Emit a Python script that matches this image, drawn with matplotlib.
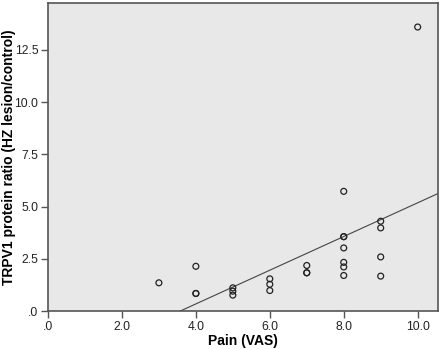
import numpy as np
import matplotlib
matplotlib.use("Agg")
import matplotlib.pyplot as plt
from matplotlib.ticker import FuncFormatter

plt.rcParams['font.family'] = ['Liberation Sans', 'DejaVu Sans']

pain = [3, 4, 4, 4, 5, 5, 5, 6, 6, 6, 7, 7, 7, 8, 8, 8, 8, 8, 8, 8, 9, 9, 9, 9, 10]
ratio = [1.35, 2.14, 0.84, 0.84, 1.11, 0.95, 0.76, 1.54, 1.28, 0.98,
         2.18, 1.83, 1.83, 5.73, 3.56, 3.56, 3.02, 2.33, 2.11, 1.70,
         4.30, 3.98, 2.59, 1.67, 13.6]
xticks = [0, 2, 4, 6, 8, 10]
yticks = [0, 2.5, 5, 7.5, 10, 12.5]

fig = plt.figure(figsize=(4.4, 3.49), dpi=100)
ax = fig.add_axes([48/440, 38/349, 390/440, 308/349])
ax.set_facecolor('#e8e8e8')

ax.scatter(pain, ratio, s=18, facecolors='none', edgecolors='#222222', linewidths=0.9, zorder=3)

slope, intercept = np.polyfit(pain, ratio, 1)
xl = np.array([0, 11])
ax.plot(xl, slope * xl + intercept, color='#444444', lw=0.8, zorder=2)

ax.set_xlim(0, 10.55)
ax.set_ylim(0, 14.75)
ax.set_xticks(xticks)
ax.set_yticks(yticks)

def fmt(v, pos):
    s = f"{v:.1f}"
    if s.startswith("0"):
        s = s[1:]
    return s

ax.xaxis.set_major_formatter(FuncFormatter(fmt))
ax.yaxis.set_major_formatter(FuncFormatter(fmt))
ax.tick_params(direction='out', length=5, width=1, color='#555555', labelsize=8.7, labelcolor='#222222', pad=2)
for sp in ax.spines.values():
    sp.set_color('#555555')
    sp.set_linewidth(1.2)

ax.set_xlabel('Pain (VAS)', fontsize=10, fontweight='bold', labelpad=1)
ax.set_ylabel('TRPV1 protein ratio (HZ lesion/control)', fontsize=10, fontweight='bold',
              va='center')
ax.yaxis.set_label_coords(-0.1, 0.5)

fig.savefig('out.png', dpi=100)
